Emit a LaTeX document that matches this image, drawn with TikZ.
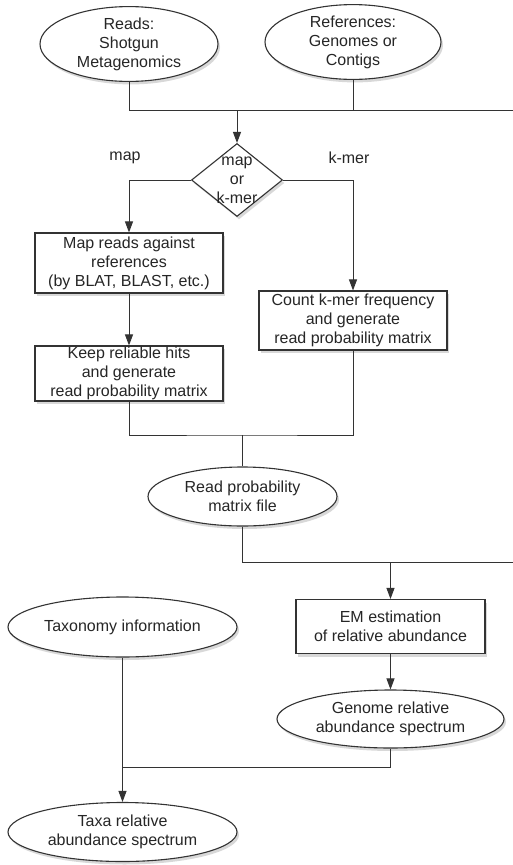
\documentclass[tikz,border=0pt]{standalone}
\usepackage{fontspec}
\setmainfont{Liberation Sans}
\usetikzlibrary{shapes.geometric,shadows,arrows.meta}
\tikzset{
  base/.style={draw=black!80, line width=1.1pt, fill=white, align=center,
    font=\fontsize{16}{19}\selectfont, text=black!85, inner sep=0pt,
    drop shadow={opacity=0.3, shadow xshift=2pt, shadow yshift=-3pt}},
  ell/.style={base, ellipse},
  box/.style={base, rectangle},
  dec/.style={base, diamond},
  lbl/.style={font=\fontsize{16}{19}\selectfont, text=black!85, inner sep=0pt},
  conn/.style={draw=black!80, line width=1pt},
  arr/.style={conn, -{Triangle[length=11pt,width=8pt]}}
}
\begin{document}
\begin{tikzpicture}[x=1pt,y=-1pt]
\fill[white] (0,0) rectangle (513,865);
\useasboundingbox (0,0) rectangle (513,865);

\node[ell, minimum width=178pt, minimum height=72pt] (reads) at (129,44) {Reads:\\Shotgun\\Metagenomics};
\node[ell, minimum width=176pt, minimum height=72pt] (refs) at (353,42) {References:\\Genomes or\\Contigs};
\coordinate (e1) at (513,110);

\node[dec, minimum width=91pt, minimum height=73pt,
  label={[lbl, align=center]center:map\\or\\k-mer}] (dec) at (237,180) {};
\node[lbl] (lmap) at (125,158) {map};
\node[lbl] (lkmer) at (349,158) {k-mer};

\node[box, minimum width=188pt, minimum height=60pt] (map) at (129,263) {Map reads against\\references\\(by BLAT, BLAST, etc.)};
\node[box, minimum width=188pt, minimum height=55pt] (keep) at (129,373.5) {Keep reliable hits\\and generate\\read probability matrix};
\node[box, minimum width=188pt, minimum height=59pt] (count) at (353,320.5) {Count k-mer frequency\\and generate\\read probability matrix};
\coordinate (j2) at (242.5,435);

\node[ell, minimum width=189pt, minimum height=59pt] (rpm) at (242.5,496.5) {Read probability\\matrix file};
\coordinate (e3) at (513,562);

\node[box, minimum width=189pt, minimum height=54pt] (em) at (390.5,626.5) {EM estimation\\of relative abundance};
\node[ell, minimum width=227pt, minimum height=58pt] (genome) at (390.5,719) {Genome relative\\abundance spectrum};
\node[ell, minimum width=229pt, minimum height=60pt] (tax) at (122.5,627) {Taxonomy information};
\node[ell, minimum width=229pt, minimum height=59pt] (taxa) at (122.5,832) {Taxa relative\\abundance spectrum};
\coordinate (j4) at (122.5,767);

\draw[conn] (reads.south) |- (e1);
\draw[conn] (refs.south) -- (refs.south |- e1);
\draw[arr] (dec.north |- e1) -- (dec.north);
\draw[arr] (dec.west) -| (map.north);
\draw[arr] (dec.east) -| (count.north);
\draw[arr] (map) -- (keep);
\draw[conn] (keep.south) |- (j2) -| (count.south);
\draw[conn] (j2) -- (rpm.north);
\draw[conn] (rpm.south) |- (e3);
\draw[arr] (em.north |- e3) -- (em.north);
\draw[arr] (em) -- (genome);
\draw[arr] (tax) -- (taxa);
\draw[conn] (genome.south) |- (j4);
\end{tikzpicture}
\end{document}
